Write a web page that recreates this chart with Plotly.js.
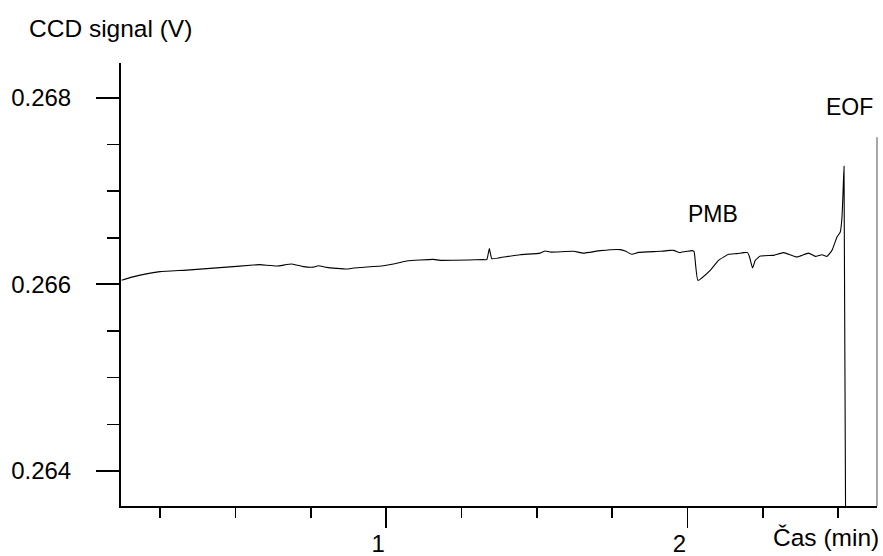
<!DOCTYPE html>
<html>
<head>
<meta charset="utf-8">
<script src="https://cdn.plot.ly/plotly-3.0.1.min.js"></script>
<style>
  html, body { margin: 0; padding: 0; background: #fff; }
  #chart { width: 883px; height: 556px; }
</style>
</head>
<body>
<div id="chart"></div>
<script>
// Electropherogram: CCD detector signal versus migration time
const timeMin = [
  0.1228, 0.160, 0.200, 0.250, 0.3385, 0.449, 0.5596, 0.5818, 0.6372, 0.687, 0.7255, 0.7587,
  0.7753, 0.8032, 0.8696, 0.8915, 0.991, 1.0242, 1.0687, 1.157, 1.1792, 1.3229,
  1.3342, 1.3425, 1.3508, 1.3784, 1.4447, 1.5111, 1.5277, 1.5443, 1.6216, 1.6548,
  1.7103, 1.7766, 1.7932, 1.8155, 1.8374, 1.9094, 1.9426, 1.9535, 1.9758, 1.9814,
  2.0179, 2.0222, 2.0345, 2.0753, 2.1029, 2.1361, 2.1640, 2.1859, 2.1992, 2.2058,
  2.2158, 2.2247, 2.2413, 2.2854, 2.3186, 2.3631, 2.4016, 2.4238, 2.4461, 2.4627,
  2.4793, 2.4959, 2.5068, 2.5125, 2.5158, 2.5192, 2.5251
];
const signalV = [
  0.266043, 0.266080, 0.266110, 0.266136, 0.266153, 0.266179, 0.266207, 0.266211, 0.266196, 0.266218, 0.266190, 0.266185,
  0.266200, 0.266182, 0.266164, 0.266175, 0.266200, 0.266218, 0.266250, 0.266268, 0.266257, 0.266265,
  0.266265, 0.266383, 0.266275, 0.266286, 0.266318, 0.266335, 0.266357, 0.266346, 0.266354, 0.266335,
  0.266361, 0.266372, 0.266357, 0.266322, 0.266343, 0.266354, 0.266364, 0.266364, 0.266340, 0.266346,
  0.266361, 0.266346, 0.266043, 0.266150, 0.266257, 0.266322, 0.266329, 0.266340, 0.266340, 0.266293,
  0.266175, 0.266257, 0.266303, 0.266311, 0.266340, 0.266293, 0.266335, 0.266300, 0.266318, 0.266300,
  0.266364, 0.266507, 0.266561, 0.266721, 0.266975, 0.267265, 0.263000
];

// Axis ticks and peak labels
const xTickVals = [1, 2];
const xTickText = ['1', '2'];
const yTickVals = [0.264, 0.266, 0.268];
const yTickText = ['0.264', '0.266', '0.268'];
const peakNames = ['PMB', 'EOF'];
const peakLabelX = [2.0846, 2.5367];
const peakLabelY = [0.266757, 0.267905];

const xRange = [0.1205, 2.6286];
const yRange = [0.263625, 0.268372];
const font = 'Arial, "Liberation Sans", sans-serif';

const trace = {
  x: timeMin,
  y: signalV,
  type: 'scatter',
  mode: 'lines',
  line: { color: '#000', width: 1.1, shape: 'spline', smoothing: 0.4 },
  hoverinfo: 'x+y'
};

const annotations = peakNames.map((name, i) => ({
  x: peakLabelX[i], y: peakLabelY[i], xref: 'x', yref: 'y',
  text: name, showarrow: false,
  font: { family: font, size: 23, color: '#000' },
  xanchor: 'center', yanchor: 'middle'
}));
annotations.push({
  x: -0.125, y: 1.077, xref: 'paper', yref: 'paper',
  text: 'CCD signal (V)', showarrow: false,
  font: { family: font, size: 24.5, color: '#000' },
  xanchor: 'left', yanchor: 'middle'
});
annotations.push({
  x: 0.932, y: -0.07, xref: 'paper', yref: 'paper',
  text: 'Čas (min)', showarrow: false,
  font: { family: font, size: 24.5, color: '#000' },
  xanchor: 'center', yanchor: 'middle'
});

const layout = {
  width: 883, height: 556,
  margin: { l: 121, r: 6.3, t: 63, b: 50, pad: 0 },
  paper_bgcolor: '#fff', plot_bgcolor: '#fff',
  showlegend: false,
  font: { family: font, size: 23, color: '#000' },
  xaxis: {
    range: xRange, showgrid: false, zeroline: false,
    showline: true, linecolor: '#000', linewidth: 2,
    ticks: 'outside', ticklen: 20, tickwidth: 1.6, tickcolor: '#000',
    tickvals: xTickVals, ticktext: xTickText,
    ticklabelshift: -8, ticklabelstandoff: -5,
    tickfont: { family: font, size: 24, color: '#000' },
    minor: { dtick: 0.25, tick0: 0, ticks: 'outside', ticklen: 10, tickwidth: 1.6, tickcolor: '#000', showgrid: false }
  },
  yaxis: {
    range: yRange, showgrid: false, zeroline: false,
    showline: true, linecolor: '#000', linewidth: 2,
    ticks: 'outside', ticklen: 23, tickwidth: 2, tickcolor: '#000',
    tickvals: yTickVals, ticktext: yTickText,
    ticklabelstandoff: 20,
    tickfont: { family: font, size: 24, color: '#000' },
    minor: { dtick: 0.0005, tick0: 0.264, ticks: 'outside', ticklen: 12, tickwidth: 1.6, tickcolor: '#000', showgrid: false }
  },
  shapes: [{
    type: 'line', xref: 'paper', yref: 'y',
    x0: 1, x1: 1, y0: yRange[0], y1: 0.267576,
    line: { color: '#8a8a8a', width: 1.5 }
  }],
  annotations: annotations
};

Plotly.newPlot('chart', [trace], layout, { displayModeBar: false, staticPlot: true });
</script>
</body>
</html>
